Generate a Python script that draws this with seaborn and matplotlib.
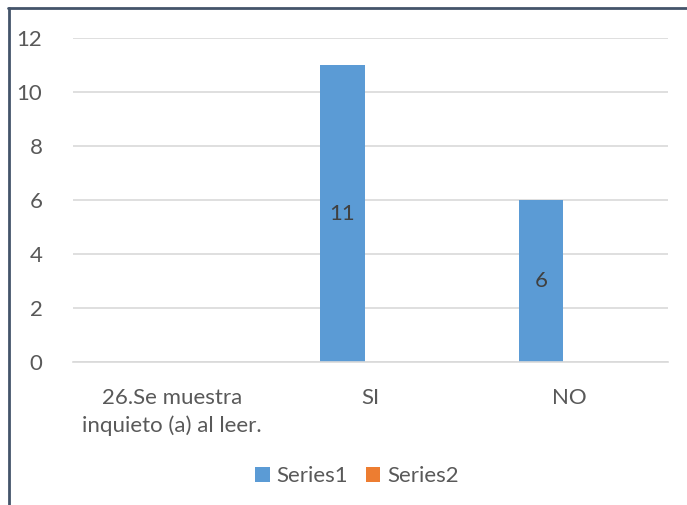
import matplotlib
matplotlib.use("Agg")
import matplotlib.pyplot as plt
from matplotlib.lines import Line2D
from matplotlib.patches import Patch
import seaborn as sns
import pandas as pd
import numpy as np

categories = ["26.Se muestra\ninquieto (a) al leer.", "SI", "NO"]
series1 = [np.nan, 11, 6]
series2 = [np.nan, np.nan, np.nan]
series_names = ["Series1", "Series2"]
colors = ["#5b9bd5", "#ed7d31"]
yticks = [0, 2, 4, 6, 8, 10, 12]

sns.set_theme(style="white")
plt.rcParams["font.family"] = ["Lato", "DejaVu Sans"]

FS = 16

df = pd.DataFrame({
    "cat": categories * 2,
    "val": series1 + series2,
    "series": [series_names[0]] * 3 + [series_names[1]] * 3,
})

fig = plt.figure(figsize=(6.87, 5.05), dpi=100)
ax = fig.add_axes([73/687, 1 - 362/505, 595/687, 324/505])

sns.barplot(data=df, x="cat", y="val", hue="series", order=categories,
            hue_order=series_names, palette=colors, width=0.565, gap=0.214,
            ax=ax, legend=False, linewidth=0, saturation=1)

ax.set_ylim(0, 12)
ax.set_xlim(-0.5, 2.5)
ax.set_yticks(yticks)
ax.set_yticklabels([str(t) for t in yticks])
ax.yaxis.grid(True, color="#d9d9d9", linewidth=1.2)
ax.set_axisbelow(True)
for s in ["top", "right", "left"]:
    ax.spines[s].set_visible(False)
ax.spines["bottom"].set_color("#d9d9d9")
ax.spines["bottom"].set_linewidth(1.2)
ax.tick_params(axis="both", length=0, colors="#595959", labelsize=FS)
ax.tick_params(axis="y", pad=22)
ax.tick_params(axis="x", pad=19)
for lbl in ax.get_xticklabels():
    lbl.set_linespacing(1.45)
ax.set_xlabel("")
ax.set_ylabel("")

for c in ax.containers:
    labels = ["" if (v is None or np.isnan(v)) else f"{v:g}" for v in c.datavalues]
    texts = ax.bar_label(c, labels=labels, label_type="center", color="#404040", fontsize=FS)
    for t in texts:
        t.set_y(t.get_position()[1])

handles = [Patch(facecolor=colors[i], edgecolor="none", label=series_names[i]) for i in range(2)]
fig.legend(handles=handles, loc="center", bbox_to_anchor=(357/687, 1 - 476/505), ncol=2,
           frameon=False, fontsize=FS, labelcolor="#595959", handlelength=0.65,
           handleheight=0.65, handletextpad=0.3, columnspacing=0.8)

fig.add_artist(Line2D([9/687, 9/687], [0, 1 - 8/505], transform=fig.transFigure,
                      color="#44546a", linewidth=2))
fig.add_artist(Line2D([8/687, 1], [1 - 8/505, 1 - 8/505], transform=fig.transFigure,
                      color="#44546a", linewidth=2))

fig.savefig("out.png", dpi=100)
